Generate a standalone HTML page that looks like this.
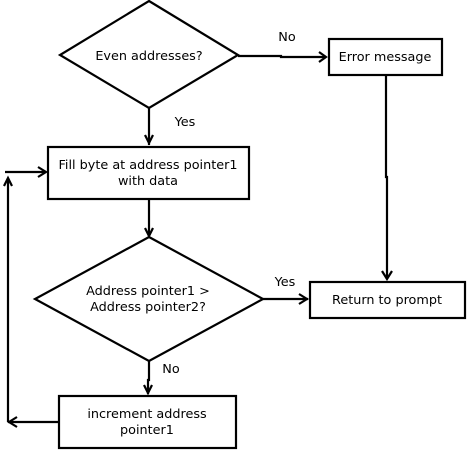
<!DOCTYPE html>
<html><head><meta charset="utf-8"><style>
html,body{margin:0;padding:0;background:#fff;}
svg{display:block;}
text{font-family:"DejaVu Sans","Liberation Sans",sans-serif;font-size:12.8px;fill:#000;}
</style></head><body>
<svg width="468" height="451" viewBox="0 0 468 451" xmlns="http://www.w3.org/2000/svg">
<g fill="none" stroke="#000" stroke-width="2.2">
<polygon points="149,1 238,55 149,108 60,55" fill="#fff"/>
<rect x="329" y="39" width="113" height="36" fill="#fff"/>
<rect x="48" y="147" width="201" height="52" fill="#fff"/>
<polygon points="149,237 263,299 149,361 35,299" fill="#fff"/>
<rect x="310" y="282" width="155" height="36" fill="#fff"/>
<rect x="59" y="396" width="177" height="52" fill="#fff"/>
<polyline points="238,56 281,56 281,57 326,57"/>
<polyline points="319,52 326,57 319,62"/>
<polyline points="386,76 386,177 387,177 387,279"/>
<polyline points="382,271 387,279 392,271"/>
<line x1="149" y1="108" x2="149" y2="145"/>
<polyline points="145,135 149,143 153,135"/>
<line x1="149" y1="200" x2="149" y2="236"/>
<polyline points="145,228 149,236 153,228"/>
<line x1="263" y1="299" x2="308" y2="299"/>
<polyline points="299,294 307,299 299,304"/>
<polyline points="149,361 149,380 148,380 148,394"/>
<polyline points="144,385 148,393 152,385"/>
<line x1="58" y1="422" x2="8" y2="422"/>
<polyline points="17,417 9,422 17,427"/>
<line x1="8" y1="422" x2="8" y2="178"/>
<polyline points="4,186 8,178 12,186"/>
<line x1="5" y1="172" x2="46" y2="172"/>
<polyline points="38,167 46,172 38,177"/>
</g>
<text x="149" y="60" text-anchor="middle">Even addresses?</text>
<text x="287" y="41" text-anchor="middle">No</text>
<text x="385" y="61" text-anchor="middle">Error message</text>
<text x="185" y="126" text-anchor="middle">Yes</text>
<text x="148" y="169" text-anchor="middle">Fill byte at address pointer1</text>
<text x="148" y="185" text-anchor="middle">with data</text>
<text x="148" y="295" text-anchor="middle">Address pointer1 &gt;</text>
<text x="148" y="311" text-anchor="middle">Address pointer2?</text>
<text x="285" y="286" text-anchor="middle">Yes</text>
<text x="387" y="304" text-anchor="middle">Return to prompt</text>
<text x="171" y="373" text-anchor="middle">No</text>
<text x="147" y="418" text-anchor="middle">increment address</text>
<text x="147" y="434" text-anchor="middle">pointer1</text>
</svg>
</body></html>
